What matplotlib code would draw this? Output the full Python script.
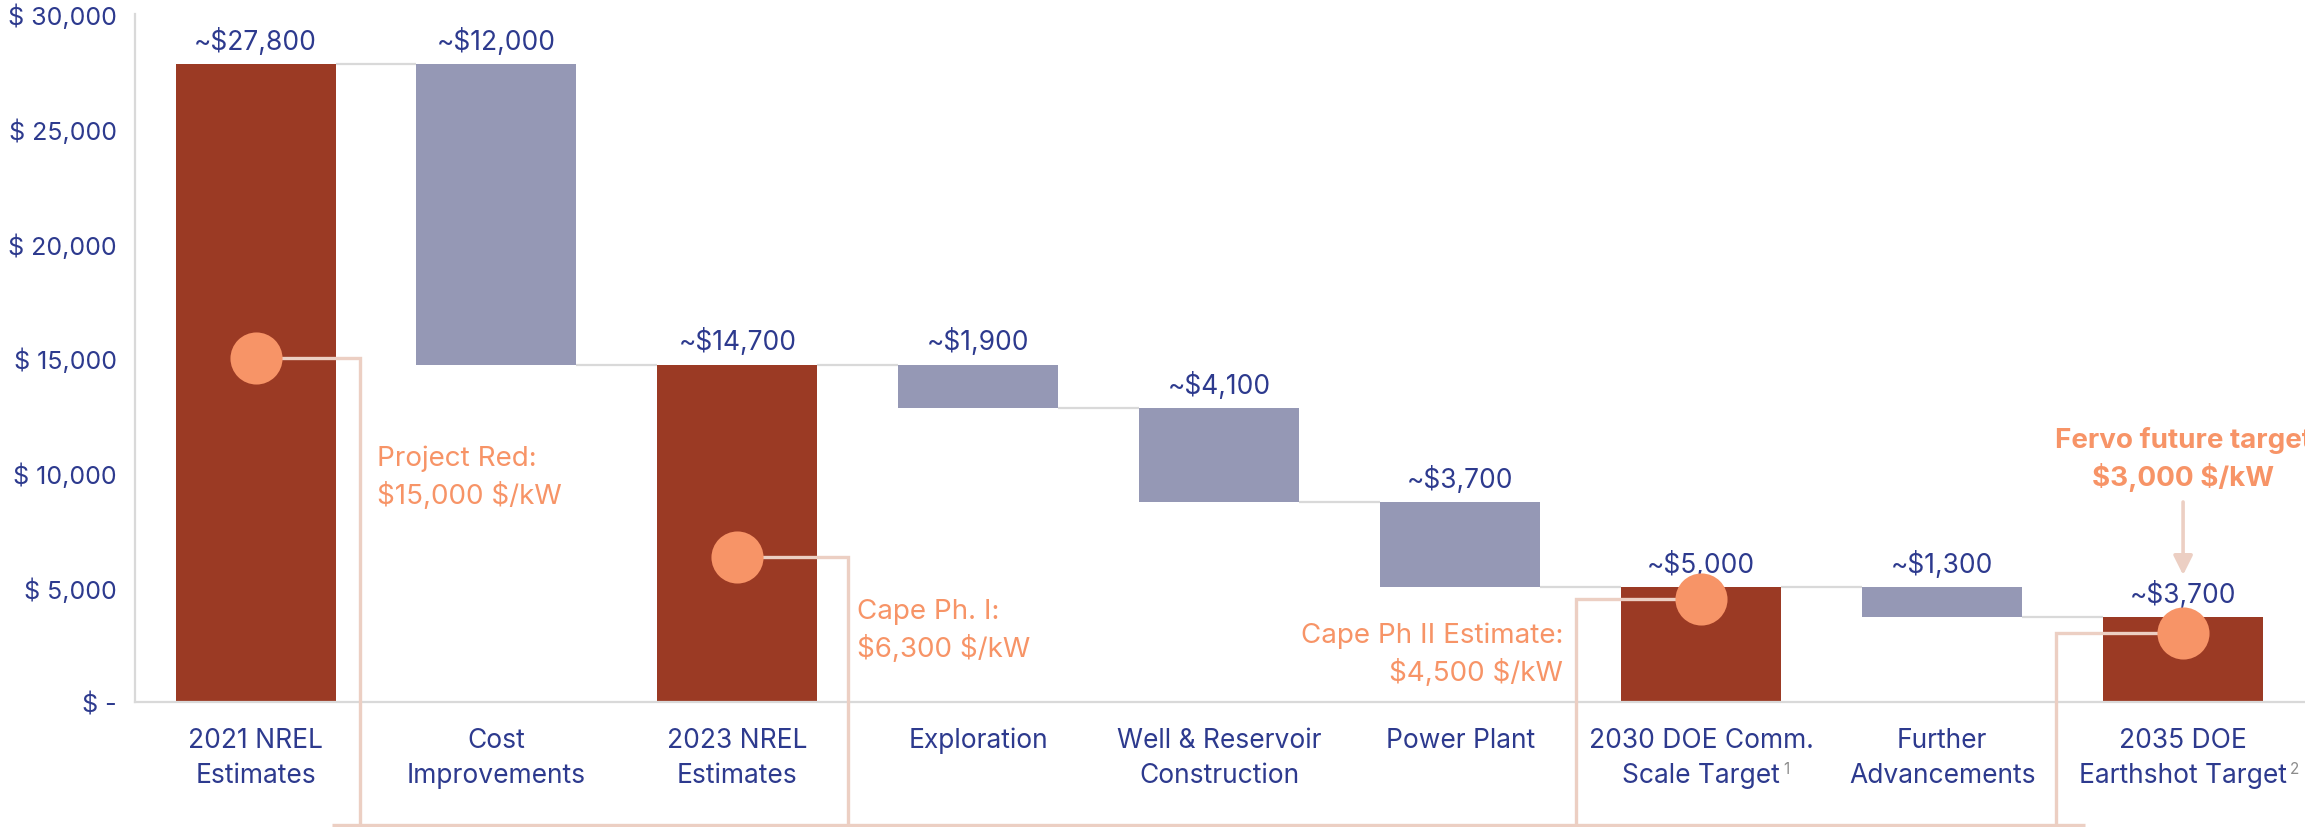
import matplotlib

matplotlib.use("Agg")
import matplotlib.pyplot as plt

plt.rcParams["font.family"] = ["Inter", "DejaVu Sans"]

# ---------------------------------------------------------------- data
CATEGORIES = [
    ["2021 NREL", "Estimates"],
    ["Cost", "Improvements"],
    ["2023 NREL", "Estimates"],
    ["Exploration"],
    ["Well & Reservoir", "Construction"],
    ["Power Plant"],
    ["2030 DOE Comm.", "Scale Target"],
    ["Further", "Advancements"],
    ["2035 DOE", "Earthshot Target"],
]
KINDS = ["total", "step", "total", "step", "step", "step", "total", "step", "total"]
VALUES = [27800, 13100, 14700, 1900, 4100, 3700, 5000, 1300, 3700]
VALUE_LABELS = ["~$27,800", "~$12,000", "~$14,700", "~$1,900", "~$4,100",
                "~$3,700", "~$5,000", "~$1,300", "~$3,700"]
FOOTNOTES = {6: "1", 8: "2"}

CALLOUT_BARS = [0, 2, 6, 8]
CALLOUT_VALUES = [15000, 6300, 4500, 3000]
CALLOUT_TEXTS = [
    ["Project Red:", "$15,000 $/kW"],
    ["Cape Ph. I:", "$6,300 $/kW"],
    ["Cape Ph II Estimate:", "$4,500 $/kW"],
    ["Fervo future target", "$3,000 $/kW"],
]

Y_TICKS = [0, 5000, 10000, 15000, 20000, 25000, 30000]
Y_TICK_LABELS = ["$ -", "$ 5,000", "$ 10,000", "$ 15,000", "$ 20,000",
                 "$ 25,000", "$ 30,000"]

# ---------------------------------------------------------------- style
NAVY = "#2D3A8E"
RED = "#9B3A24"
SLATE = "#9598B5"
ORANGE = "#F79467"
PINK = "#ECCFC3"
GRID = "#D9D9D9"
YMAX = 30000
WIDTH = 0.664
PX = 0.72  # points per pixel at dpi 100

fig = plt.figure(figsize=(23.05, 8.28), dpi=100)
ax = fig.add_axes([0.0586, 0.151, 0.9414, 0.8309])
ax.set_xlim(-0.5, 8.506)
ax.set_ylim(0, YMAX)

# waterfall geometry
bottoms, tops, after = [], [], []
level = 0
for kind, v in zip(KINDS, VALUES):
    if kind == "total":
        lo, hi = 0, v
        level = v
    else:
        lo, hi = level - v, level
        level = lo
    bottoms.append(lo)
    tops.append(hi)
    after.append(level)

xs = list(range(len(VALUES)))
colors = [RED if k == "total" else SLATE for k in KINDS]
ax.bar(xs, [t - b for t, b in zip(tops, bottoms)], bottom=bottoms, width=WIDTH,
       color=colors, zorder=2)

# connectors between neighbouring bars
for i in range(len(xs) - 1):
    ax.plot([i + WIDTH / 2, i + 1 - WIDTH / 2], [after[i], after[i]],
            color=GRID, lw=1.6, zorder=1, solid_capstyle="butt")

# value labels
for i, lab in enumerate(VALUE_LABELS):
    ax.annotate(lab, xy=(i, tops[i]), xytext=(0, 15.5 * PX), textcoords="offset points",
                ha="center", va="baseline", fontsize=19, color=NAVY, parse_math=False)

# category labels, one text per line
for i, lines in enumerate(CATEGORIES):
    last = None
    for j, line in enumerate(lines):
        last = ax.annotate(line, xy=(i, 0), xycoords=("data", "axes fraction"),
                           xytext=(0, -(45 + 35 * j) * PX), textcoords="offset points",
                           ha="center", va="baseline", fontsize=19, color=NAVY,
                           annotation_clip=False)
    if i in FOOTNOTES:
        ax.annotate(FOOTNOTES[i], xy=(1.0, 1.0), xycoords=last,
                    xytext=(2, 1), textcoords="offset points",
                    ha="left", va="top", fontsize=11, color="#8C8C8C")

# callouts: dot, elbow line and bracket along the bottom
elbows = [0.434, 0.458, -0.52, -0.527]
bracket_y = -0.1795 * YMAX
for b, v, dx in zip(CALLOUT_BARS, CALLOUT_VALUES, elbows):
    ex = b + dx
    ax.plot([b, ex, ex], [v, v, bracket_y], color=PINK, lw=2.4, zorder=3,
            clip_on=False, solid_joinstyle="miter")
    ax.plot(b, v, "o", ms=37.5, color=ORANGE, mec="none", zorder=4)
lo_x = CALLOUT_BARS[0] + elbows[0] - 0.115
hi_x = CALLOUT_BARS[-1] + elbows[-1] + 0.12
ax.plot([lo_x, hi_x], [bracket_y, bracket_y], color=PINK, lw=2.4, zorder=3,
        clip_on=False, solid_capstyle="butt")

text_spots = [(0.505, 10335, "left", "normal"),
              (2.497, 3663, "left", "normal"),
              (5.426, 2616, "right", "normal"),
              (8.0, 11119, "center", "bold")]
for lines, (tx, ty, ha, weight) in zip(CALLOUT_TEXTS, text_spots):
    for j, line in enumerate(lines):
        ax.annotate(line, xy=(tx, ty), xytext=(0, -38 * j * PX), textcoords="offset points",
                    ha=ha, va="baseline", fontsize=20, color=ORANGE, fontweight=weight,
                    annotation_clip=False, parse_math=False)

# arrow from the target note down to the final estimate
ax.annotate("", xy=(8.0, 5538), xytext=(8.0, 8721),
            arrowprops=dict(arrowstyle="-|>,head_length=0.58,head_width=0.29",
                            mutation_scale=20, color=PINK, lw=2.6,
                            shrinkA=0, shrinkB=0))

# axes cosmetics
ax.set_xticks([])
ax.set_yticks(Y_TICKS, Y_TICK_LABELS)
ax.tick_params(axis="y", length=0, pad=13, labelsize=18, labelcolor=NAVY)
for side in ("top", "right"):
    ax.spines[side].set_visible(False)
for side in ("left", "bottom"):
    ax.spines[side].set_color(GRID)
    ax.spines[side].set_linewidth(1.6)

fig.savefig("out.png", dpi=100)
